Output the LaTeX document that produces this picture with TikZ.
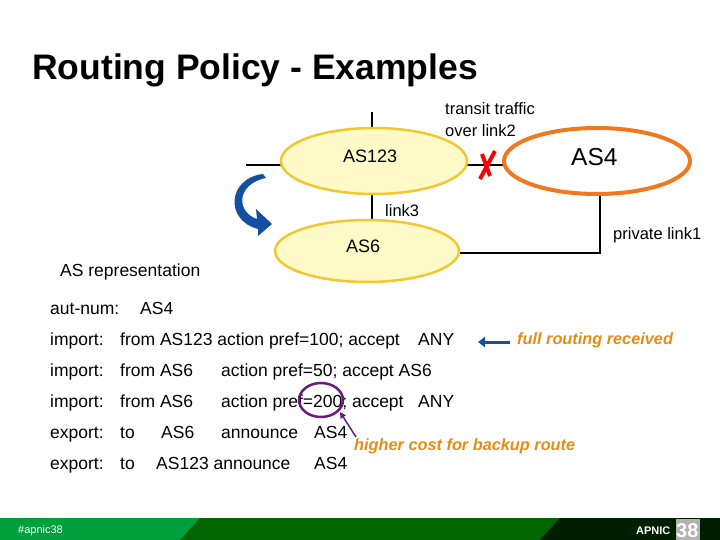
\documentclass[tikz,border=0pt]{standalone}
\usepackage{fontspec}
\setmainfont{Liberation Sans}
\usetikzlibrary{arrows.meta}
\definecolor{ylw}{RGB}{255,250,200}
\definecolor{ybd}{RGB}{240,200,50}
\definecolor{org}{RGB}{240,120,30}
\definecolor{orgt}{RGB}{230,140,20}
\definecolor{gl}{RGB}{0,160,60}
\definecolor{gd}{RGB}{0,100,0}
\definecolor{bl}{RGB}{20,80,160}
\definecolor{pur}{RGB}{100,30,120}
\begin{document}
\begin{tikzpicture}[x=1pt,y=-1pt,
  txt/.style={anchor=base west,inner sep=0pt,font=\fontsize{17.5}{20}\selectfont},
  lbl/.style={anchor=base west,inner sep=0pt,font=\fontsize{16.5}{19}\selectfont},
  link/.style={line width=2.5pt}]
\useasboundingbox (0,0) rectangle (720,540);
\node[txt,font=\bfseries\fontsize{35.5}{40}\selectfont] (title) at (32,80) {Routing Policy - Examples};
% links
\coordinate (t1) at (372,112); \coordinate (t2) at (372,130);
\draw[link] (t1) -- (t2);
\coordinate (l1) at (246,165); \coordinate (l2) at (282,165);
\draw[link] (l1) -- (l2);
\coordinate (m1) at (466,165); \coordinate (m2) at (505,165);
\draw[link] (m1) -- (m2);
\coordinate (v1) at (372,193); \coordinate (v2) at (372,222);
\draw[link] (v1) -- (v2);
\coordinate (p1) at (600,193); \coordinate (p2) at (600,253); \coordinate (p3) at (458,253);
\draw[link] (p1) -- (p2) -- (p3);
\filldraw[ylw,draw=ybd,line width=2.5pt] (374,161) ellipse (93 and 33);
\filldraw[ylw,draw=ybd,line width=2.5pt] (367,251) ellipse (92 and 31);
\filldraw[white,draw=org,line width=4pt] (597,161) ellipse (93 and 33);
\node[lbl,font=\fontsize{18}{20}\selectfont] (as123) at (343,163) {AS123};
\node[lbl,font=\fontsize{24.5}{28}\selectfont] (as4) at (571,166) {AS4};
\node[lbl,font=\fontsize{18}{20}\selectfont] (as6) at (346,252) {AS6};
\draw[red,line width=4pt] (480,179) -- (495,151);
\draw[red,line width=4pt] (482,154) -- (490,176);
\node[lbl] (tt) at (445,115) {transit traffic};
\node[lbl] (tt2) at (445,137) {over link2};
\node[lbl] (l3) at (385,216) {link3};
\node[lbl] (pl) at (613,240) {private link1};
% blue arrow
\fill[bl] (266,178) .. controls (236,184) and (236,212) .. (257,219) -- (256,209) -- (272,224) -- (258,236) -- (258,229) .. controls (224,220) and (228,178) .. (263,174) -- cycle;
\node[txt] (asr) at (60,276) {AS representation};
\node[txt] (r0) at (50,314) {aut-num:};
\node[txt] (r0b) at (140,314) {AS4};
\node[txt] (r1) at (50,345) {import:};
\node[txt] (r1b) at (120,345) {from AS123 action pref=100; accept};
\node[txt] (r1c) at (418,345) {ANY};
\node[txt] (r2) at (50,376) {import:};
\node[txt] (r2b) at (120,376) {from AS6};
\node[txt] (r2c) at (221,376) {action pref=50; accept AS6};
\node[txt] (r3) at (50,407) {import:};
\node[txt] (r3b) at (120,407) {from AS6};
\node[txt] (r3c) at (221,407) {action pref=200; accept};
\node[txt] (r3d) at (418,407) {ANY};
\node[txt] (r4) at (50,438) {export:};
\node[txt] (r4b) at (120,438) {to};
\node[txt] (r4c) at (161,438) {AS6};
\node[txt] (r4d) at (221,438) {announce};
\node[txt] (r4e) at (314,438) {AS4};
\node[txt] (r5) at (50,469) {export:};
\node[txt] (r5b) at (120,469) {to};
\node[txt] (r5c) at (156,469) {AS123 announce};
\node[txt] (r5d) at (314,469) {AS4};
\node[txt,text=orgt,font=\bfseries\itshape\fontsize{16.3}{19}\selectfont] (fr) at (517,344) {full routing received};
\coordinate (ba1) at (510,342); \coordinate (ba2) at (478,342);
\draw[bl,line width=3pt,-{Triangle[length=7pt,width=10pt]}] (ba1) -- (ba2);
\node[txt,text=orgt,font=\bfseries\itshape\fontsize{16.3}{19}\selectfont] (hc) at (354,450) {higher cost for backup route};
\draw[pur,line width=2.5pt] (321,400) ellipse (22 and 17);
\coordinate (pa1) at (356,437); \coordinate (pa2) at (340,412);
\draw[pur,line width=1.5pt,-{Triangle[length=6pt,width=6pt]}] (pa1) -- (pa2);
% footer
\fill[gl] (0,518) rectangle (720,540);
\fill[gd] (200,518) -- (720,518) -- (720,540) -- (180,540) -- cycle;
\fill[black!70!gd] (560,518) -- (720,518) -- (720,540) -- (540,540) -- cycle;
\node[txt,text=white,font=\fontsize{11}{12}\selectfont] (hash) at (18,533) {\#apnic38};
\node[txt,text=white,font=\bfseries\fontsize{11}{12}\selectfont] (ap) at (636,534) {APNIC};
\fill[gray!60] (676,519) rectangle (700,540);
\node[txt,text=white,font=\bfseries\fontsize{20}{22}\selectfont] (n38) at (676,537) {38};
\end{tikzpicture}
\end{document}
